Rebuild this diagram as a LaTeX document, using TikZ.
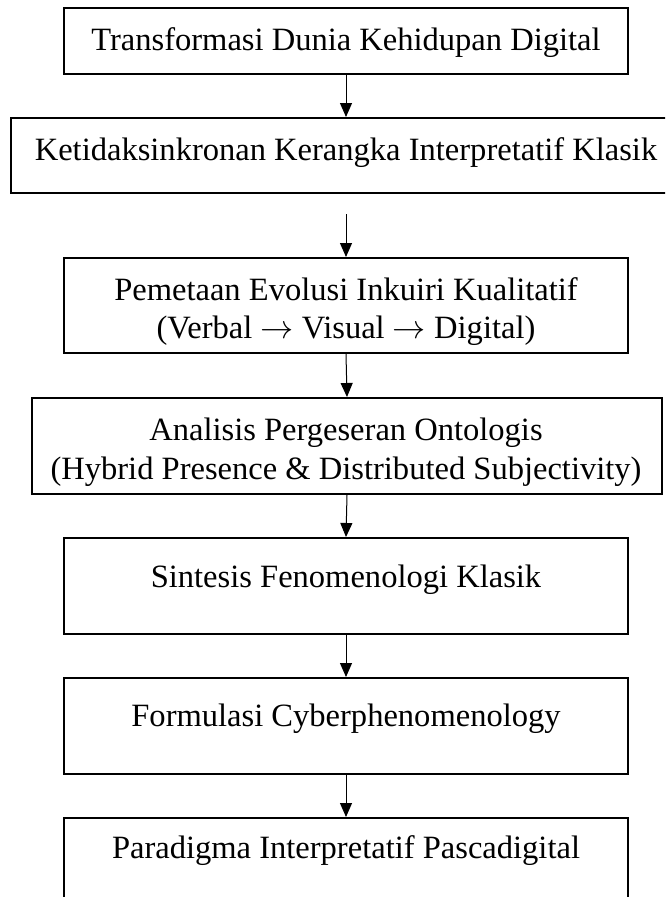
\documentclass[tikz,border=0pt]{standalone}
\usepackage{fontspec}
\setmainfont{Liberation Serif}
\usetikzlibrary{arrows.meta}
\begin{document}
\begin{tikzpicture}[x=0.75pt,y=-0.75pt,
  box/.style={draw=black, line width=1.5pt, rectangle, inner sep=0pt},
  txt/.style={anchor=base, inner sep=0pt, font=\fontsize{24.4}{29}\selectfont},
  arr/.style={line width=0.75pt, -{Triangle[width=9pt,length=10.5pt]}}]
\useasboundingbox (0,0) rectangle (665,897);
\clip (0,0) rectangle (665,897);
% boxes
\node[box, minimum width=423pt, minimum height=49.5pt] (b1) at (346,41) {};
\node[box, minimum width=502.5pt, minimum height=56.25pt] (b2) at (346,155.5) {};
\node[box, minimum width=423pt, minimum height=71.25pt] (b3) at (346,305.5) {};
\node[box, minimum width=472.5pt, minimum height=72pt] (b4) at (347,446) {};
\node[box, minimum width=423pt, minimum height=72pt] (b5) at (346,586) {};
\node[box, minimum width=423pt, minimum height=72pt] (b6) at (346,726) {};
\node[box, minimum width=423pt, minimum height=72pt] (b7) at (346,866) {};
% texts
\node[txt] (t1) at (346,50) {Transformasi Dunia Kehidupan Digital};
\node[txt] (t2) at (346,160) {Ketidaksinkronan Kerangka Interpretatif Klasik};
\node[txt] (t3a) at (346,300) {Pemetaan Evolusi Inkuiri Kualitatif};
\node[txt] (t3b) at (346,338) {(Verbal $\rightarrow$ Visual $\rightarrow$ Digital)};
\node[txt] (t4a) at (346,440) {Analisis Pergeseran Ontologis};
\node[txt] (t4b) at (346,479) {(Hybrid Presence \& Distributed Subjectivity)};
\node[txt] (t5) at (346,587) {Sintesis Fenomenologi Klasik};
\node[txt] (t6) at (346,726) {Formulasi Cyberphenomenology};
\node[txt] (t7) at (346,858) {Paradigma Interpretatif Pascadigital};
% arrows
\draw[arr] (b1.south) -- (b2.north);
\draw[arr, shorten <=15pt] (b2.south) -- (b3.north);
\draw[arr] (b3.south) -- (b4.north);
\draw[arr] (b4.south) -- (b5.north);
\draw[arr] (b5.south) -- (b6.north);
\draw[arr] (b6.south) -- (b7.north);
\end{tikzpicture}
\end{document}
